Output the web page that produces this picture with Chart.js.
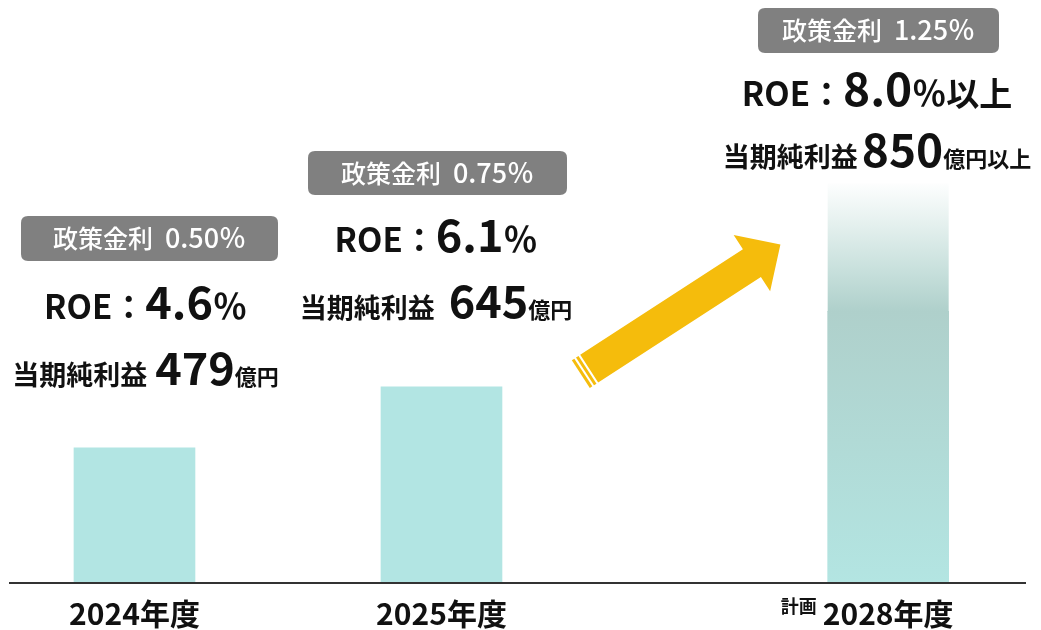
<!DOCTYPE html>
<html><head><meta charset="utf-8">
<script src="https://cdn.jsdelivr.net/npm/chart.js@4/dist/chart.umd.min.js"></script>
<style>html,body{margin:0;padding:0;background:#fff;}#wrap{position:relative;width:1041px;height:630px;}canvas{display:block;}</style>
</head><body><div id="wrap"><canvas id="c" width="1041" height="630"></canvas></div>
<script>
// ---- data ----
const categories = ['2024年度', '2025年度', '2028年度'];
const categoryNotes = ['', '', '計画'];
const netProfit = [479, 645, 850];
const roeValues = ['4.6', '6.1', '8.0'];
const roeSuffix = ['', '', '以上'];
const profitUnit = ['億円', '億円', '億円以上'];
const policyRates = ['0.50％', '0.75％', '1.25％'];
const policyLabel = '政策金利';

// ---- layout / style ----
const FONT = "'Noto Sans CJK JP', 'Noto Sans', sans-serif";
const layoutCfg = {
  slots: [0, 1, 2.455],
  xMin: -0.4055, xMax: 2.9007,
  yMin: 111, yMax: 1697,
  barWidth: 121,
  fadeHeight: 128,
  blocks: [
    {cx: 145.5, boxCx: 149.5, boxTop: 216, boxW: 257, boxH: 45, boxBase: 248, roeBase: 319, netBase: 385, netGap: 8, digit: 45},
    {cx: 436,   boxCx: 437.5, boxTop: 151, boxW: 259, boxH: 44, boxBase: 183, roeBase: 252, netBase: 318, netGap: 14, digit: 45},
    {cx: 877,   boxCx: 878.5, boxTop: 8,   boxW: 241, boxH: 45, boxBase: 40,  roeBase: 106, netBase: 167, netGap: 4, digit: 46}
  ],
  arrow: {tail: [589.2, 368.7], angleDeg: -33.0, shaftLen: 194, shaftW: 33, headW: 67, headLen: 34}
};
const colors = {bar: '#b2e5e3', barTop: '#afd0cb', axis: '#333333', text: '#111111', box: '#808080', arrow: '#f5bc0c'};

function drawSegs(ctx, segs, cx, base, color) {
  let total = 0;
  const ws = segs.map(s => {
    ctx.font = `${s.w || 'bold'} ${s.size}px ${FONT}`;
    ctx.letterSpacing = (s.ls || 0) + 'px';
    const w = ctx.measureText(s.t).width;
    total += w + (s.gap || 0);
    return w;
  });
  let x = cx - total / 2;
  ctx.textAlign = 'left'; ctx.textBaseline = 'alphabetic'; ctx.fillStyle = color;
  segs.forEach((s, i) => {
    ctx.font = `${s.w || 'bold'} ${s.size}px ${FONT}`;
    ctx.letterSpacing = (s.ls || 0) + 'px';
    ctx.fillText(s.t, x, base);
    x += ws[i] + (s.gap || 0);
  });
  ctx.letterSpacing = '0px';
}

function roundRect(ctx, x, y, w, h, r) {
  ctx.beginPath();
  ctx.moveTo(x + r, y); ctx.lineTo(x + w - r, y); ctx.quadraticCurveTo(x + w, y, x + w, y + r);
  ctx.lineTo(x + w, y + h - r); ctx.quadraticCurveTo(x + w, y + h, x + w - r, y + h);
  ctx.lineTo(x + r, y + h); ctx.quadraticCurveTo(x, y + h, x, y + h - r);
  ctx.lineTo(x, y + r); ctx.quadraticCurveTo(x, y, x + r, y);
  ctx.closePath();
}

const decorPlugin = {
  id: 'decor',
  afterDatasetsDraw(chart) {
    const ctx = chart.ctx;
    const meta = chart.getDatasetMeta(0);
    // fade extension above the plan bar
    const bar = meta.data[2];
    if (bar) {
      const w = bar.width, top = bar.y, h = layoutCfg.fadeHeight;
      const g = ctx.createLinearGradient(0, top, 0, top - h);
      g.addColorStop(0, colors.barTop);
      g.addColorStop(0.3, '#c6dfdb');
      g.addColorStop(0.7, '#e6f1ef');
      g.addColorStop(1, '#fdfefe');
      ctx.save(); ctx.fillStyle = g; ctx.fillRect(bar.x - w / 2, top - h, w, h + 0.5); ctx.restore();
    }
  },
  afterDraw(chart) {
    const ctx = chart.ctx;
    ctx.save();
    // annotation blocks
    layoutCfg.blocks.forEach((b, i) => {
      ctx.fillStyle = colors.box;
      roundRect(ctx, b.boxCx - b.boxW / 2, b.boxTop, b.boxW, b.boxH, 7);
      ctx.fill();
      drawSegs(ctx, [
        {t: policyLabel, size: 25, w: '500', gap: 12},
        {t: policyRates[i], size: 27, w: '500'}
      ], b.boxCx, b.boxBase, '#ffffff');
      const roeSegs = [
        {t: 'ROE', size: 33},
        {t: '：', size: 33},
        {t: roeValues[i], size: b.digit},
        {t: '％', size: 34}
      ];
      if (roeSuffix[i]) roeSegs.push({t: roeSuffix[i], size: 33});
      drawSegs(ctx, roeSegs, b.cx, b.roeBase, colors.text);
      drawSegs(ctx, [
        {t: '当期純利益', size: 27, gap: b.netGap},
        {t: String(netProfit[i]), size: b.digit},
        {t: profitUnit[i], size: 22}
      ], b.cx, b.netBase, colors.text);
    });
    // category notes (計画)
    const xs = chart.scales.x;
    ctx.font = `bold 30px ${FONT}`;
    categoryNotes.forEach((n, i) => {
      if (!n) return;
      const px = xs.getPixelForValue(layoutCfg.slots[i]);
      const lw = ctx.measureText(categories[i]).width;
      ctx.save();
      ctx.font = `bold 18px ${FONT}`;
      ctx.textAlign = 'right'; ctx.textBaseline = 'alphabetic'; ctx.fillStyle = colors.text;
      ctx.fillText(n, px - lw / 2 - 6, 613);
      ctx.restore();
    });
    // arrow
    const a = layoutCfg.arrow;
    const th = a.angleDeg * Math.PI / 180;
    const u = [Math.cos(th), Math.sin(th)], nv = [-u[1], u[0]];
    const P = (t, s) => [a.tail[0] + u[0] * t + nv[0] * s, a.tail[1] + u[1] * t + nv[1] * s];
    const poly = pts => { ctx.beginPath(); pts.forEach((p, k) => k ? ctx.lineTo(p[0], p[1]) : ctx.moveTo(p[0], p[1])); ctx.closePath(); ctx.fill(); };
    ctx.fillStyle = colors.arrow;
    const hw = a.shaftW / 2, hh = a.headW / 2;
    poly([P(0, -hw), P(a.shaftLen, -hw), P(a.shaftLen, -hh), P(a.shaftLen + a.headLen, 0), P(a.shaftLen, hh), P(a.shaftLen, hw), P(0, hw)]);
    poly([P(-5, -hw), P(-2, -hw), P(-2, hw), P(-5, hw)]);
    poly([P(-10, -hw), P(-7, -hw), P(-7, hw), P(-10, hw)]);
    ctx.restore();
  }
};

const ctx = document.getElementById('c').getContext('2d');
new Chart(ctx, {
  type: 'bar',
  data: {
    datasets: [{
      data: netProfit.map((v, i) => ({x: layoutCfg.slots[i], y: v})),
      barThickness: layoutCfg.barWidth,
      borderWidth: 0,
      backgroundColor: (c) => {
        if (c.dataIndex !== 2 || !c.chart.chartArea) return colors.bar;
        const y = c.chart.scales.y;
        const g = c.chart.ctx.createLinearGradient(0, y.getPixelForValue(layoutCfg.yMin), 0, y.getPixelForValue(netProfit[2]));
        g.addColorStop(0, '#b3e5e2');
        g.addColorStop(1, colors.barTop);
        return g;
      }
    }]
  },
  options: {
    responsive: false, animation: false, maintainAspectRatio: false,
    layout: {padding: {left: 10, right: 16, top: 0, bottom: 0}},
    plugins: {legend: {display: false}, tooltip: {enabled: false}},
    scales: {
      x: {
        type: 'linear', min: layoutCfg.xMin, max: layoutCfg.xMax, offset: false,
        grid: {display: false, drawTicks: false, offset: false},
        border: {display: true, color: colors.axis, width: 2, z: 1},
        afterBuildTicks: (s) => { s.ticks = layoutCfg.slots.map(v => ({value: v})); },
        afterFit: (s) => { s.height = 47; },
        ticks: {
          padding: 16, autoSkip: false, maxRotation: 0, minRotation: 0, color: colors.text,
          font: {family: FONT, size: 30, weight: 'bold', lineHeight: 1},
          callback: (v, i) => categories[i]
        }
      },
      y: {display: false, min: layoutCfg.yMin, max: layoutCfg.yMax}
    }
  },
  plugins: [decorPlugin]
});
</script>
</body></html>
